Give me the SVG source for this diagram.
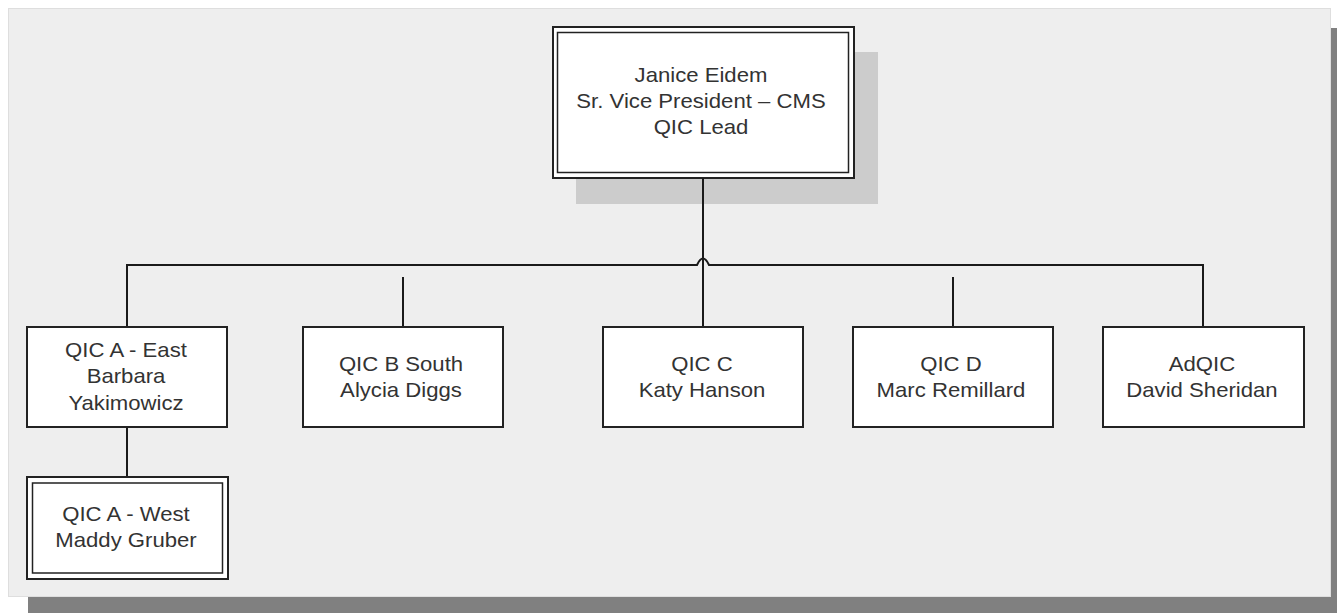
<svg xmlns="http://www.w3.org/2000/svg" width="1337" height="613" viewBox="0 0 1337 613">
<style>
.box{fill:#ffffff;stroke:#222222;stroke-width:2}
.inner{fill:none;stroke:#222222;stroke-width:1.5}
.lbl{font-family:"Liberation Sans",Arial,sans-serif;font-size:20.5px;fill:#333333;text-anchor:middle}
.con{fill:none;stroke:#1a1a1a;stroke-width:2}
</style>
<rect x="0" y="0" width="1337" height="613" fill="#ffffff"/>
<rect x="28" y="28" width="1323" height="588" fill="#808080"/>
<rect x="8.5" y="8.5" width="1322" height="588" fill="#eeeeee" stroke="#dedede" stroke-width="1"/>
<g id="janice">
<rect x="576" y="52" width="302" height="152" fill="#cccccc"/>
<rect class="box" x="553" y="27" width="301" height="151"/>
<rect class="inner" x="557.5" y="32.5" width="291" height="140"/>
<g transform="translate(701,0) scale(1.08,1)">
<text class="lbl" x="0" y="82">Janice Eidem</text>
<text class="lbl" x="0" y="108">Sr. Vice President – CMS</text>
<text class="lbl" x="0" y="134">QIC Lead</text>
</g>
</g>
<g id="connectors">
<path class="con" d="M127,327 V265 H697 Q703,252 709,265 H1203 V327"/>
<path class="con" d="M703,178 V327"/>
<path class="con" d="M403,277 V327"/>
<path class="con" d="M953,277 V327"/>
<path class="con" d="M127,427 V477"/>
</g>
<g id="qic-a-east">
<rect class="box" x="27" y="327" width="200" height="100"/>
<g transform="translate(126,0) scale(1.08,1)">
<text class="lbl" x="0" y="357">QIC A - East</text>
<text class="lbl" x="0" y="383.5">Barbara</text>
<text class="lbl" x="0" y="410">Yakimowicz</text>
</g>
</g>
<g id="qic-a-west">
<rect class="box" x="27" y="477" width="201" height="102"/>
<rect class="inner" x="32.5" y="483" width="190" height="90"/>
<g transform="translate(126,0) scale(1.08,1)">
<text class="lbl" x="0" y="521">QIC A - West</text>
<text class="lbl" x="0" y="547">Maddy Gruber</text>
</g>
</g>
<g id="qic-b">
<rect class="box" x="303" y="327" width="200" height="100"/>
<g transform="translate(401,0) scale(1.08,1)">
<text class="lbl" x="0" y="371">QIC B South</text>
<text class="lbl" x="0" y="397">Alycia Diggs</text>
</g>
</g>
<g id="qic-c">
<rect class="box" x="603" y="327" width="200" height="100"/>
<g transform="translate(702,0) scale(1.08,1)">
<text class="lbl" x="0" y="371">QIC C</text>
<text class="lbl" x="0" y="397">Katy Hanson</text>
</g>
</g>
<g id="qic-d">
<rect class="box" x="853" y="327" width="200" height="100"/>
<g transform="translate(951,0) scale(1.08,1)">
<text class="lbl" x="0" y="371">QIC D</text>
<text class="lbl" x="0" y="397">Marc Remillard</text>
</g>
</g>
<g id="adqic">
<rect class="box" x="1103" y="327" width="201" height="100"/>
<g transform="translate(1202,0) scale(1.08,1)">
<text class="lbl" x="0" y="371">AdQIC</text>
<text class="lbl" x="0" y="397">David Sheridan</text>
</g>
</g>
</svg>
